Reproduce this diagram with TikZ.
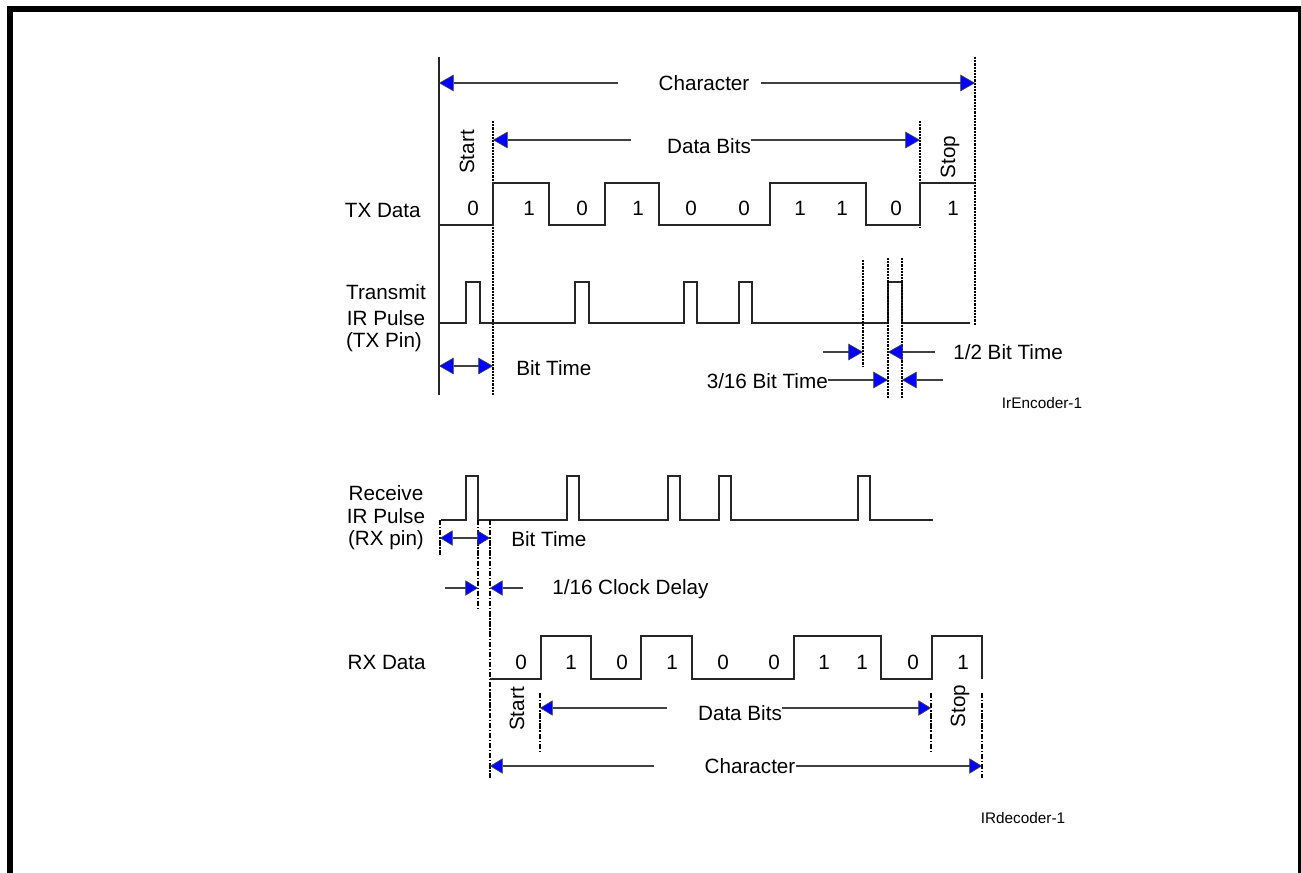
\documentclass[tikz,border=0pt]{standalone}
\usepackage{fontspec}
\setmainfont{Liberation Sans}
\usetikzlibrary{arrows.meta}
\begin{document}
\begin{tikzpicture}[x=0.75pt,y=-0.75pt,
  wave/.style={line width=0.9pt, draw=black!85},
  dotl/.style={line width=0.8pt, draw=black, dash pattern=on 1.6pt off 0.8pt},
  dashdot/.style={line width=0.8pt, draw=black, dash pattern=on 4pt off 1.3pt on 1pt off 1.3pt},
  dim/.style={line width=0.8pt, draw=black!75},
  >={Triangle[length=11pt,width=12.5pt,fill=blue,line width=0.5pt]},
  rxdim/.style={dim, >={Triangle[length=9.5pt,width=11.5pt,fill=blue,line width=0.5pt]}},
  lbl/.style={font=\fontsize{15.5}{18}\selectfont, inner sep=0pt},
  small/.style={font=\fontsize{11.5}{13}\selectfont, inner sep=0pt},
]
\useasboundingbox (0,0) rectangle (1301,873);
% frame
\fill[black] (7,6) rectangle (1301,12);
\fill[black] (7,6) rectangle (13,873);
\fill[black] (1298,6) rectangle (1301,873);

% ---------------- TX (encoder) ----------------
\coordinate (tL) at (439,57);
\coordinate (tR) at (975,57);
\draw[wave] (tL) -- (439,395);
\draw[dotl] (tR) -- (975,325);
\draw[dotl] (493,121) -- (493,395);
\draw[dotl] (920,121) -- (920,228);

% Character
\node[lbl] (tchar) at (704,83) {Character};
\coordinate (tcL) at (439,83); \coordinate (tcR) at (975,83);
\draw[dim,<-] (tcL) -- (618,83);
\draw[dim,->] (761,83) -- (tcR);
% Data bits
\node[lbl] (tdb) at (709,146) {Data Bits};
\coordinate (tdL) at (493,140); \coordinate (tdR) at (920,140);
\draw[dim,<-] (tdL) -- (631,140);
\draw[dim,->] (tdb.east |- tdR) -- (tdR);
\node[lbl,rotate=90] (tstart) at (467,152) {Start};
\node[lbl,rotate=90] (tstop) at (950,157) {Stop};

% TX data waveform
\node[lbl,anchor=east] (txlbl) at (421,210) {TX Data};
\draw[wave] (439,225) -- (493,225) -- (493,183) -- (549,183) -- (549,225) -- (605,225) -- (605,183) -- (659,183) -- (659,225) -- (770,225) -- (770,183) -- (866,183) -- (866,225) -- (920,225) -- (920,183) -- (975,183);
\foreach \x/\b [count=\i] in {473/0,529/1,582/0,638/1,691/0,744/0,800/1,842/1,896/0,953/1}
  \node[lbl] (tb\i) at (\x,208) {\b};

% IR pulse (TX)
\node[lbl] (tirA) at (386,292) {Transmit};
\node[lbl] (tirB) at (386,318) {IR Pulse};
\node[lbl] (tirC) at (384,342) {(TX Pin)};
\draw[wave] (439,323) -- (466,323) -- (466,282) -- (480,282) -- (480,323)
  -- (575,323) -- (575,282) -- (589,282) -- (589,323)
  -- (684,323) -- (684,282) -- (697,282) -- (697,323)
  -- (739,323) -- (739,282) -- (752,282) -- (752,323)
  -- (888,323) -- (888,282) -- (902,282) -- (902,323) -- (970,323);
\draw[dotl] (863,260) -- (863,366);
\draw[dotl] (888,258) -- (888,398);
\draw[dotl] (902,258) -- (902,398);

% bit time
\coordinate (tbtL) at (439,366); \coordinate (tbtR) at (493,366);
\draw[dim,<->] (tbtL) -- (tbtR);
\node[lbl,anchor=west] (tbt) at (516,368) {Bit Time};
% 1/2 bit time
\coordinate (hA) at (863,352); \coordinate (hB) at (888,352);
\draw[dim,->] (823,352) -- (hA);
\draw[dim,->] (935,352) -- (hB);
\node[lbl,anchor=west] (half) at (953,352) {1/2 Bit Time};
% 3/16 bit time
\node[lbl,anchor=east] (tsix) at (828,381) {3/16 Bit Time};
\coordinate (sA) at (888,380); \coordinate (sB) at (902,380);
\draw[dim,->] (tsix.east |- sA) -- (sA);
\draw[dim,->] (943,380) -- (sB);
\node[small] (enc) at (1042,403) {IrEncoder-1};

% ---------------- RX (decoder) ----------------
\node[lbl] (rirA) at (386,493) {Receive};
\node[lbl] (rirB) at (386,516) {IR Pulse};
\node[lbl] (rirC) at (386,540) {(RX pin)};
\draw[wave] (441,520) -- (466,520) -- (466,476) -- (478,476) -- (478,520)
  -- (567,520) -- (567,476) -- (579,476) -- (579,520)
  -- (668,520) -- (668,476) -- (680,476) -- (680,520)
  -- (719,520) -- (719,476) -- (731,476) -- (731,520)
  -- (858,520) -- (858,476) -- (870,476) -- (870,520) -- (933,520);
\draw[dashdot] (440,520) -- (440,555);
\draw[dashdot] (478,520) -- (478,610);
\draw[dashdot] (490,520) -- (490,778);

\coordinate (rbtL) at (440,538); \coordinate (rbtR) at (490,538);
\draw[rxdim,<->] (rbtL) -- (rbtR);
\node[lbl,anchor=west] (rbt) at (511,539) {Bit Time};

\coordinate (cA) at (478,588); \coordinate (cB) at (490,588);
\draw[rxdim,->] (445,588) -- (cA);
\draw[rxdim,->] (523,588) -- (cB);
\node[lbl,anchor=west] (clk) at (552,589) {1/16 Clock Delay};

% RX data
\node[lbl,anchor=east] (rxlbl) at (426,662) {RX Data};
\draw[wave] (490,679) -- (541,679) -- (541,636) -- (591,636) -- (591,679) -- (641,679) -- (641,636) -- (692,636) -- (692,679) -- (794,679) -- (794,636) -- (881,636) -- (881,679) -- (932,679) -- (932,636) -- (982,636) -- (982,679);
\foreach \x/\b [count=\i] in {521/0,571/1,622/0,672/1,723/0,774/0,824/1,862/1,913/0,963/1}
  \node[lbl] (rb\i) at (\x,662) {\b};

\node[lbl,rotate=90] (rstart) at (517,709) {Start};
\node[lbl,rotate=90] (rstop) at (960,706) {Stop};
\draw[dashdot] (540,693) -- (540,752);
\draw[dashdot] (931,693) -- (931,752);
\draw[dashdot] (982,693) -- (982,778);

\node[lbl] (rdb) at (740,713) {Data Bits};
\coordinate (rdL) at (540,708); \coordinate (rdR) at (931,708);
\draw[rxdim,<-] (rdL) -- (667,708);
\draw[rxdim,->] (rdb.east |- rdR) -- (rdR);

\node[lbl] (rchar) at (750,766) {Character};
\coordinate (rcL) at (490,766); \coordinate (rcR) at (982,766);
\draw[rxdim,<-] (rcL) -- (654,766);
\draw[rxdim,->] (rchar.east |- rcR) -- (rcR);

\node[small] (dec) at (1023,818) {IRdecoder-1};
\end{tikzpicture}
\end{document}
